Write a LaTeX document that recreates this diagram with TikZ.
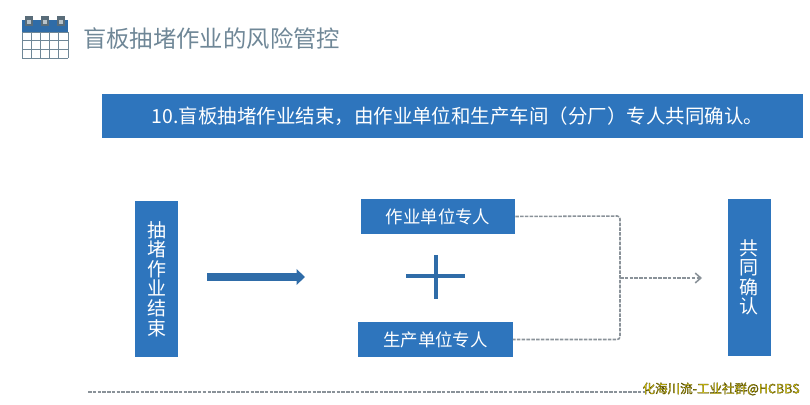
\documentclass[tikz,border=0pt]{standalone}
\usepackage{fontspec}
\setmainfont{Noto Sans CJK SC}
\usepackage{xcolor}
\usetikzlibrary{arrows.meta, positioning, calc}
\definecolor{boxblue}{HTML}{2E75BD}
\definecolor{darkblue}{HTML}{2F6CA8}
\definecolor{titlegray}{HTML}{6F8797}
\definecolor{dashgray}{HTML}{8A9299}
\definecolor{markyellow}{HTML}{F2E010}
\newcommand{\outlined}[1]{\special{pdf:code 2 Tr 0.2 w 0.25 0.22 0 RG}#1\special{pdf:code 0 Tr}}
\tikzstyle{banner} = [rectangle, minimum width=701pt*0.7113, minimum height=44pt*0.7113, text centered, fill=boxblue, text=white, font=\fontsize{13.85}{16}\selectfont]
\tikzstyle{hbox} = [rectangle, minimum width=154pt*0.7113, minimum height=35pt*0.7113, text centered, fill=boxblue, text=white, font=\fontsize{12.4}{14}\selectfont]
\tikzstyle{vbox} = [rectangle, minimum width=43pt*0.7113, minimum height=156pt*0.7113, align=center, fill=boxblue, text=white, font=\fontsize{13.5}{13.9}\selectfont]
\tikzstyle{dashline} = [dashgray, line width=1.1pt, dash pattern=on 2.5pt off 0.9pt]
\tikzstyle{arrow} = [dashline, -{Straight Barb[length=4pt,width=7pt]}]
\tikzstyle{bigarrow} = [darkblue, line width=5.5pt, -{Triangle[length=6pt,width=11pt]}]
\tikzstyle{plusbar} = [darkblue, line width=3.2pt]

\begin{document}
\begin{tikzpicture}[x=0.025cm, y=-0.025cm]
    \useasboundingbox (0,0) rectangle (810,405);
    % header
    \node (title) [anchor=west, text=titlegray, font=\fontsize{16.6}{18}\selectfont, inner sep=0pt] at (83,39) {盲板抽堵作业的风险管控};
    \fill [darkblue] (22,20) rectangle (68,32);
    \foreach \x in {29,45,61} {
        \fill [titlegray!80!black] (\x-4,16) rectangle (\x+4,26);
        \fill [titlegray!50] (\x-2,20) rectangle (\x+2,24);
    }
    \foreach \x in {22,31.2,40.4,49.6,58.8,68} {
        \draw [titlegray, semithick] (\x,32) -- (\x,58);
    }
    \foreach \y in {32,40.7,49.3,58} {
        \draw [titlegray, semithick] (22,\y) -- (68,\y);
    }
    \node (banner) [banner] at (452.5,116) {\hspace{7pt}10.盲板抽堵作业结束，由作业单位和生产车间（分厂）专人共同确认。};

    % boxes
    \node (finish) [vbox] at (156.5,279) {抽\\堵\\作\\业\\结\\束};
    \node (workunit) [hbox] at (438,216.5) {作业单位专人};
    \node (produnit) [hbox] at (435.5,339.5) {生产单位专人};
    \node (confirm) [vbox] at (749,277.5) {共\\同\\确\\认};

    % plus and arrows
    \coordinate (bigstart) at (207,277);
    \coordinate (bigend) at (305,277);
    \draw [bigarrow] (bigstart) -- (bigend);
    \coordinate (plusl) at (406,276);
    \coordinate (plusr) at (465,276);
    \coordinate (plust) at (436,255);
    \coordinate (plusb) at (436,299);
    \draw [plusbar] (plusl) -- (plusr);
    \draw [plusbar] (plust) -- (plusb);
    \coordinate (corner) at (620,216);
    \coordinate (join) at (620,278);
    \coordinate (tip) at (702,278);
    \draw [dashline, rounded corners=2pt] (workunit.east) -- (corner) |- (produnit.east);
    \draw [arrow] (join) -- (tip);

    % bottom
    \coordinate (rulel) at (88,392);
    \coordinate (ruler) at (645,392);
    \draw [dashline] (rulel) -- (ruler);
    \node (mark) [anchor=east, text=markyellow, font=\fontsize{8.9}{12}\selectfont, inner sep=0pt] at (800,389) {\outlined{化海川流-工业社群@HCBBS}};
\end{tikzpicture}
\end{document}
